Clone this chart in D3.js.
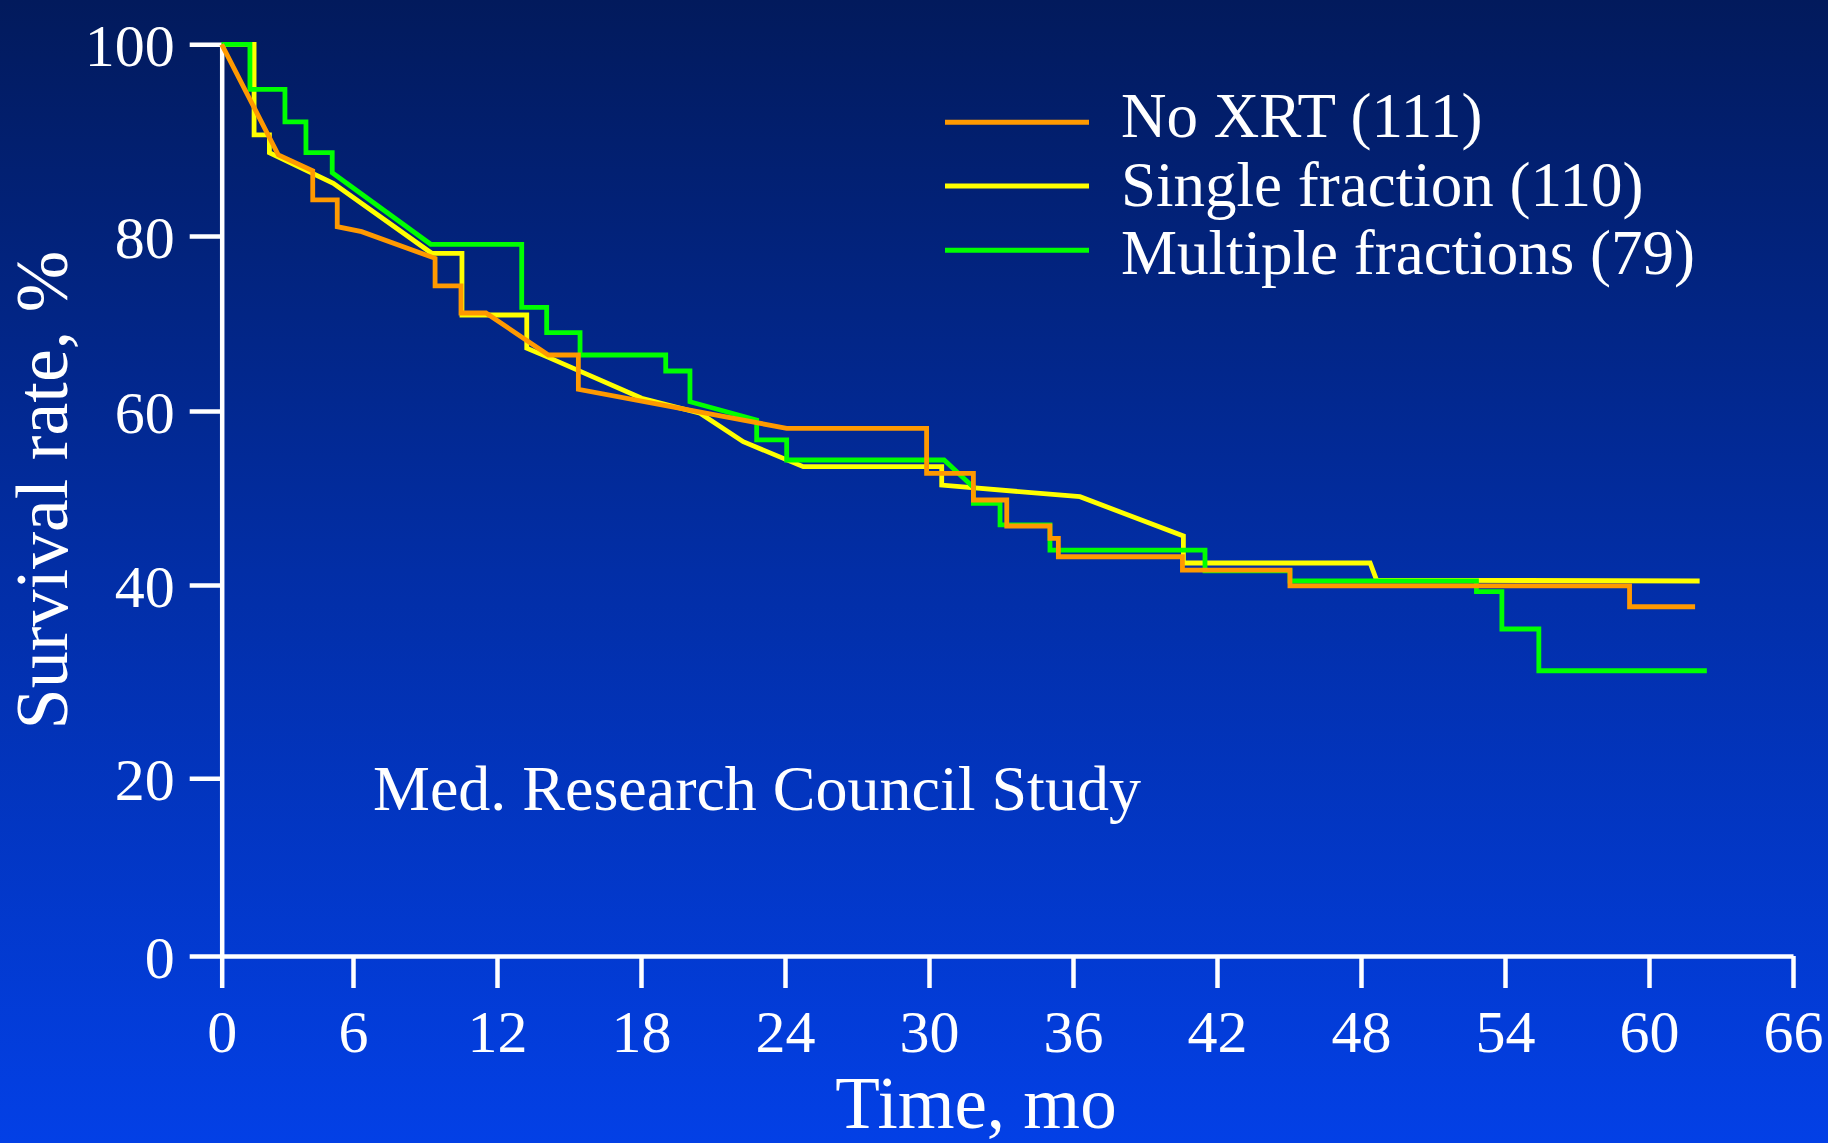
<!DOCTYPE html>
<html>
<head>
<meta charset="utf-8">
<script src="https://cdn.jsdelivr.net/npm/d3@7"></script>
<style>
  html, body { margin: 0; padding: 0; background: #0230a8; }
  svg { display: block; }
  text { font-family: "Liberation Serif", "Times New Roman", serif; fill: #ffffff; }
</style>
</head>
<body>
<svg id="chart" width="1828" height="1143"></svg>
<script>
// ---- data ----
const xTicks = [0, 6, 12, 18, 24, 30, 36, 42, 48, 54, 60, 66];
const yTicks = [0, 20, 40, 60, 80, 100];
const seriesNames = ["No XRT (111)", "Single fraction (110)", "Multiple fractions (79)"];
const seriesColors = ["#ff9900", "#ffff00", "#00ff00"];

// [month, survival %]
const noXrt = [
  [0, 100], [2.59, 88.45], [4.16, 86.81], [4.16, 83.76], [5.28, 83.76], [5.28, 80.97],
  [6.36, 80.45], [9.42, 77.45], [9.42, 74.29], [10.5, 74.29], [10.5, 71.2], [11.54, 71.2],
  [14.14, 66.4], [15.39, 66.4], [15.39, 62.48], [24.07, 58.01], [29.9, 58.01], [29.9, 52.84],
  [31.85, 52.84], [31.85, 49.77], [33.24, 49.77], [33.24, 46.78], [35.04, 46.78], [35.04, 45.37],
  [35.39, 45.37], [35.39, 43.25], [40.56, 43.25], [40.56, 41.72], [45.04, 41.72], [45.04, 39.9],
  [59.19, 39.9], [59.19, 37.75], [61.92, 37.75]
];
const singleFraction = [
  [0, 100], [1.48, 100], [1.48, 90.54], [2.18, 90.54], [2.18, 88.69], [5.1, 85.5],
  [9.28, 78.02], [10.54, 78.02], [10.54, 70.97], [13.24, 70.97], [13.24, 67.17], [14.07, 66.21],
  [18.03, 61.45], [20.46, 59.74], [22.26, 56.47], [24.76, 53.6], [30.53, 53.6], [30.53, 51.49],
  [36.29, 50.15], [40.6, 45.63], [40.6, 42.53], [48.38, 42.53], [48.65, 40.57], [62.11, 40.46]
];
const multipleFractions = [
  [0, 100], [1.29, 100], [1.29, 95.3], [2.89, 95.3], [2.89, 91.9], [3.85, 91.9], [3.85, 88.7],
  [5.05, 88.7], [5.05, 86.6], [9.24, 79.05], [13.03, 79.05], [13.03, 71.85], [14.07, 71.85],
  [14.07, 68.95], [15.46, 68.95], [15.46, 66.4], [19.03, 66.4], [19.03, 64.57], [20.04, 64.57],
  [20.04, 61.06], [22.82, 58.97], [22.82, 56.67], [24.07, 56.67], [24.07, 54.37], [30.63, 54.37],
  [31.85, 51.23], [31.85, 49.39], [32.96, 49.39], [32.96, 46.9], [35.04, 46.9], [35.04, 44.02],
  [41.5, 44.02], [41.5, 41.64], [45.04, 41.64], [45.04, 40.46], [52.81, 40.46], [52.81, 39.31],
  [53.87, 39.31], [53.87, 35.45], [55.41, 35.45], [55.41, 31.13], [62.41, 31.13]
];

// ---- drawing ----
const svg = d3.select("#chart");
const defs = svg.append("defs");
const grad = defs.append("linearGradient").attr("id", "bg").attr("x1", 0).attr("y1", 0).attr("x2", 0).attr("y2", 1);
grad.append("stop").attr("offset", "0%").attr("stop-color", "#021a5c");
grad.append("stop").attr("offset", "50%").attr("stop-color", "#022ea6");
grad.append("stop").attr("offset", "100%").attr("stop-color", "#0340e6");
svg.append("rect").attr("width", 1828).attr("height", 1143).attr("fill", "url(#bg)");

// scales follow the (slightly irregular) tick spacing of the original slide
const x = d3.scaleLinear().domain([0, 6, 66]).range([221.7, 353, 1793]);
const y = d3.scaleLinear().domain([0, 20, 40, 60, 80, 100]).range([956, 778.3, 585, 411, 236, 44.3]);

const axisStroke = 4.5;

const gx = svg.append("g").attr("transform", `translate(0,${y(0)})`)
  .call(d3.axisBottom(x).tickValues(xTicks).tickSize(32).tickSizeOuter(0).tickPadding(21).tickFormat(d3.format("d")));
const gy = svg.append("g").attr("transform", `translate(${x(0)},0)`)
  .call(d3.axisLeft(y).tickValues(yTicks).tickSize(32).tickSizeOuter(0).tickPadding(15).tickFormat(d3.format("d")));

[gx, gy].forEach(g => {
  g.select(".domain").attr("stroke", "#ffffff").attr("stroke-width", axisStroke);
  g.selectAll(".tick line").attr("stroke", "#ffffff").attr("stroke-width", axisStroke);
  g.selectAll(".tick text").attr("fill", "#ffffff")
    .style("font-family", '"Liberation Serif", serif').style("font-size", "60px");
});
gy.selectAll(".tick text").attr("dy", "0.36em");

// curves
const line = d3.line().x(d => x(d[0])).y(d => y(d[1]));
const series = [singleFraction, multipleFractions, noXrt];
const seriesColorOrder = [seriesColors[1], seriesColors[2], seriesColors[0]];
svg.append("g").selectAll("path").data(series).join("path")
  .attr("d", line)
  .attr("fill", "none")
  .attr("stroke", (d, i) => seriesColorOrder[i])
  .attr("stroke-width", 4.8)
  .attr("stroke-linejoin", "miter")
  .attr("stroke-linecap", "butt");

// legend
const legendY = [122.3, 186, 250.3];
const legendTextY = [136.7, 205.5, 273.5];
const lg = svg.append("g");
seriesNames.forEach((name, i) => {
  lg.append("line").attr("x1", 945).attr("x2", 1089).attr("y1", legendY[i]).attr("y2", legendY[i])
    .attr("stroke", seriesColors[i]).attr("stroke-width", 5);
  lg.append("text").attr("x", 1121).attr("y", legendTextY[i]).style("font-size", "63px").text(name);
});

// annotation
svg.append("text").attr("x", 373).attr("y", 810).style("font-size", "64px").text("Med. Research Council Study");

// axis titles
svg.append("text").attr("x", 976).attr("y", 1128).attr("text-anchor", "middle")
  .style("font-size", "73px").text("Time, mo");
svg.append("text").attr("transform", "translate(67,490) rotate(-90)").attr("text-anchor", "middle")
  .style("font-size", "74px").text("Survival rate, %");
</script>
</body>
</html>
